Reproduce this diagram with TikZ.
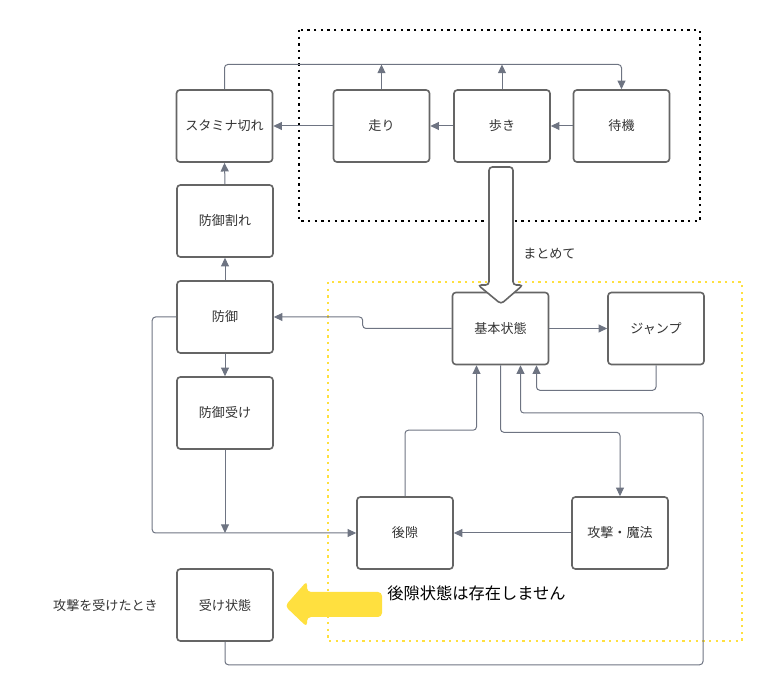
\documentclass[tikz,border=0pt]{standalone}
\usepackage{fontspec}
\setmainfont{Noto Sans CJK JP}
\usetikzlibrary{arrows.meta,calc}
\definecolor{boxline}{HTML}{656565}
\definecolor{wire}{HTML}{6E7482}
\definecolor{txt}{HTML}{333333}
\definecolor{hilite}{HTML}{FFE03F}

\begin{document}
\begin{tikzpicture}[x=0.75pt,y=-0.75pt,
  state/.style={draw=boxline, line width=1.2pt, rounded corners=2.5pt, fill=white,
    minimum width=72pt, minimum height=54pt, inner sep=0pt, text=txt,
    font=\fontsize{9.8}{12}\selectfont},
  conn/.style={draw=wire, line width=0.75pt, rounded corners=2.5pt,
    -{Triangle[length=6.5pt,width=6pt]}},
  note/.style={text=txt, inner sep=0pt, font=\fontsize{9.8}{12}\selectfont}]
\useasboundingbox (0,0) rectangle (765,698);

% group frames
\draw[black, line width=1.7pt, dash pattern=on 1.7pt off 3.3pt] (299,30) rectangle (700,221);
\draw[hilite, line width=1.8pt, dash pattern=on 1.8pt off 3.2pt] (328,282) rectangle (742,641);

% states
\node[state] (stamina) at (224.5,126) {スタミナ切れ};
\node[state] (run)     at (381.5,126) {走り};
\node[state] (walk)    at (502,126)   {歩き};
\node[state] (idle)    at (621.5,126) {待機};
\node[state] (guardbrk) at (225,221)  {防御割れ};
\node[state] (guard)    at (225,317)  {防御};
\node[state] (guardhit) at (225,413)  {防御受け};
\node[state] (base)    at (500.5,328.5) {基本状態};
\node[state] (jump)    at (656,328.5)   {ジャンプ};
\node[state] (recov)   at (405,533)     {後隙};
\node[state] (attack)  at (620,533)     {攻撃・魔法};
\node[state] (hurt)    at (225,605)     {受け状態};

% top bus back to idle
\coordinate (bus) at (0,64.5);
\draw[conn] (stamina.north) -- (stamina.north |- bus) -| (idle.north);
\draw[conn] (run.north) -- (run.north |- bus);
\draw[conn] (walk.north) -- (walk.north |- bus);

% movement chain
\draw[conn] (idle.west) -- (walk.east);
\draw[conn] (walk.west) -- (run.east);
\draw[conn] (run.west) -- (stamina.east);

% guard column
\draw[conn] (guardbrk.north) -- (stamina.south);
\draw[conn] (guard.north) -- (guardbrk.south);
\draw[conn] (guard.south) -- (guardhit.north);
\draw[conn] (base.west) -- ++(-89,0) |- (guard.east);
\draw[conn] (guard.west) -- ++(-24,0) |- (recov.west);
\draw[conn] (guardhit.south) -- (guardhit.south |- recov.west);

% base state group
\draw[conn] (base.east) -- (jump.west);
\draw[conn] (jump.south) -- ++(0,25) -| ($(base.south)+(36,0)$);
\coordinate (rbend) at (703,413);
\draw[conn] (hurt.south) -- ++(0,23) -| (rbend) -| ($(base.south)+(20,0)$);
\draw[conn] (recov.north) -- ++(0,-66) -| ($(base.south)+(-24,0)$);
\draw[conn] (base.south) -- ++(0,67) -| (attack.north);
\draw[conn] (attack.west) -- (recov.east);

% merge arrow into the base state
\draw[boxline, line width=1.2pt, fill=white, rounded corners=2.5pt]
  (489,285) -- (489,167) -- (513,167) -- (513,285) -- (523,285) -- (501,304) -- (478,285) -- cycle;
\node[note, anchor=west] (merge) at (523,254) {まとめて};

% highlighted pointer to the hurt state
\fill[hilite, rounded corners=3pt]
  (382,592) -- (382,617) -- (307,617) -- (307,627) -- (285,606) -- (307,581) -- (307,592) -- cycle;
\node[inner sep=0pt, anchor=west, font=\fontsize{12.2}{14}\selectfont] (nonote) at (387,593) {後隙状態は存在しません};
\node[note] (hitnote) at (105.5,606) {攻撃を受けたとき};
\end{tikzpicture}
\end{document}
